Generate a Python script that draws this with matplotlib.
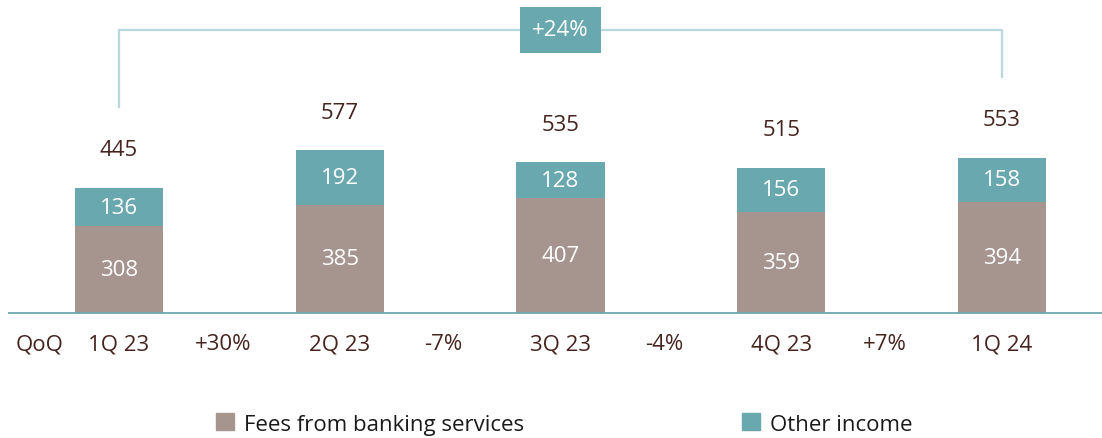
import matplotlib.pyplot as plt
from matplotlib.patches import Patch

plt.rcParams['font.family'] = ['Open Sans', 'DejaVu Sans']

quarters = ["1Q 23", "2Q 23", "3Q 23", "4Q 23", "1Q 24"]
fees = [308, 385, 407, 359, 394]
other = [136, 192, 128, 156, 158]
totals = [445, 577, 535, 515, 553]
qoq = ["+30%", "-7%", "-4%", "+7%"]
yoy_label = "+24%"

FEE_COLOR = "#a6958f"
OTHER_COLOR = "#6aa8b0"
TEXT_COLOR = "#45241f"
BRACKET_COLOR = "#b9d8dc"

fig = plt.figure(figsize=(11.02, 4.39), dpi=100)
ax = fig.add_axes([8 / 1102, 0, 1094 / 1102, 1])
ax.set_xlim(-0.503, 4.453)
ax.set_ylim(-444, 1115)
ax.axis("off")

x = list(range(len(quarters)))
ax.bar(x, fees, width=0.4, color=FEE_COLOR, zorder=2)
ax.bar(x, other, width=0.4, bottom=fees, color=OTHER_COLOR, zorder=2)
ax.axhline(0, color=OTHER_COLOR, lw=1.3, zorder=3)

fs = 16
for i in x:
    ax.text(i, fees[i] / 2, str(fees[i]), ha="center", va="center",
            color="white", fontsize=fs)
    ax.text(i, fees[i] + other[i] / 2, str(other[i]), ha="center", va="center",
            color="white", fontsize=fs)
    ax.text(i, totals[i] + 135, str(totals[i]), ha="center", va="center",
            color=TEXT_COLOR, fontsize=fs)
    ax.text(i, -110, quarters[i], ha="center", va="center",
            color=TEXT_COLOR, fontsize=fs)

for i, lab in enumerate(qoq):
    ax.text(i + 0.5 - 0.03, -110, lab, ha="center", va="center",
            color=TEXT_COLOR, fontsize=fs)
ax.text(-0.36, -110, "QoQ", ha="center", va="center", color=TEXT_COLOR, fontsize=fs)

# year-over-year bracket
top = 1005
ax.plot([0, 0, 4, 4], [totals[0] + 286, top, top, totals[-1] + 286],
        color=BRACKET_COLOR, lw=1.6, zorder=1)
ax.text(2, top, yoy_label, ha="center", va="center", color="white", fontsize=fs,
        bbox=dict(boxstyle="square,pad=0.55", fc=OTHER_COLOR, ec="none"), zorder=4)

handles = [Patch(color=FEE_COLOR, label="Fees from banking services"),
           Patch(color=OTHER_COLOR, label="Other income")]
fig.legend(handles=handles, loc="center", bbox_to_anchor=(0.512, 0.032), ncol=2,
           frameon=False, fontsize=fs, handlelength=0.8, handleheight=0.8,
           handletextpad=0.45, columnspacing=9.8, labelcolor="#1a1a1a")

fig.savefig("out.png", dpi=100)
